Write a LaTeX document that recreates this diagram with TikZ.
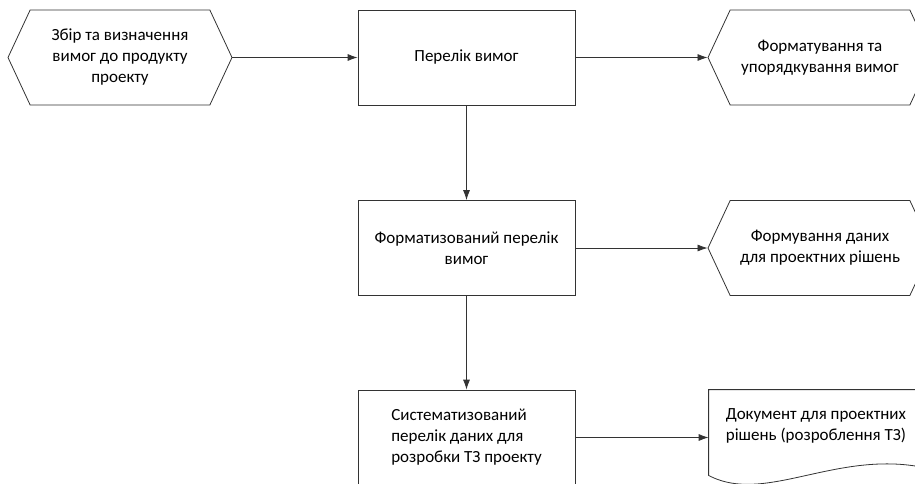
\documentclass[tikz,border=0pt]{standalone}
\usepackage{fontspec}
\setmainfont{Carlito}
\usetikzlibrary{shapes.symbols,arrows.meta}

\begin{document}
\begin{tikzpicture}[>={Latex[length=10pt,width=7pt]}, x=1pt, y=-1pt, line width=0.8pt, draw=black!80,
	every node/.style={font=\fontsize{17}{21}\selectfont},
	box/.style={draw, minimum width=217pt, minimum height=95pt, align=center},
	prep/.style={draw, signal, signal to=west and east, signal pointer angle=130,
		minimum width=224pt, minimum height=95pt, inner sep=0pt, align=center}]
	%\draw [help lines] (0,0) grid (915,484);
	\useasboundingbox (0,0) rectangle (915,484);
	\clip (0,0) rectangle (915,484);
	% left column: process steps
	\node (collect) [prep] at (120,57.5) {Збір та визначення\\вимог до продукту\\проекту};
	% middle column: lists
	\node (list) [box] at (466.5,57.5) {Перелік вимог};
	\node (fmtlist) [box] at (466.5,248) {Форматизований перелік\\вимог};
	\node (syslist) [box, align=left] at (466.5,437.5) {Систематизований\\перелік даних для\\розробки ТЗ проекту};
	% right column
	\node (format) [prep] at (820,57.5) {Форматування та\\упорядкування вимог};
	\node (forming) [prep] at (820,248) {Формування даних\\для проектних рішень};
	\node (doc) [minimum width=241pt, minimum height=95pt] at (829.5,437.5) {};
	\draw (doc.west) -- ([yshift=10pt]doc.south west)
		.. controls (770,508) and (850,438) .. (950,475) -- (doc.north east) -- (doc.north west) -- cycle;
	\node (doctext) [align=left] at (816,426) {Документ для проектних\\рішень (розроблення ТЗ)};
	% connectors
	\draw [->] (collect.east) -- (list.west);
	\draw [->] (list.east) -- (format.west);
	\draw [->] (list.south) -- (fmtlist.north);
	\draw [->] (fmtlist.east) -- (forming.west);
	\draw [->] (fmtlist.south) -- (syslist.north);
	\draw [->] (syslist.east) -- (doc.west);
\end{tikzpicture}
\end{document}
